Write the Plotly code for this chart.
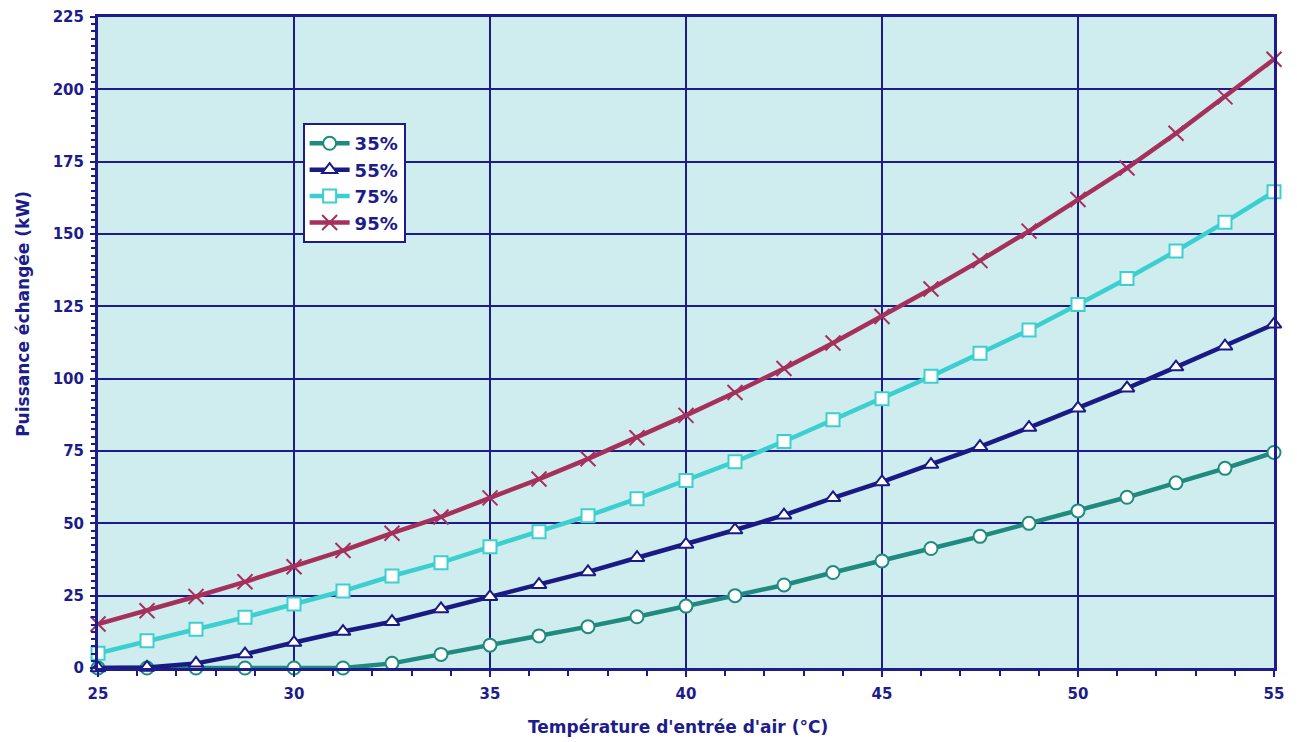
import plotly.graph_objects as go

temps = [25, 26.25, 27.5, 28.75, 30, 31.25, 32.5, 33.75, 35, 36.25, 37.5, 38.75, 40,
         41.25, 42.5, 43.75, 45, 46.25, 47.5, 48.75, 50, 51.25, 52.5, 53.75, 55]

p35 = [0, 0, 0, 0, 0, 0, 1.6, 4.7, 7.9, 11.1, 14.3, 17.7, 21.4, 25.0, 28.7,
       33.0, 37.0, 41.3, 45.5, 50.0, 54.3, 59.0, 64.0, 69.0, 74.5]
p55 = [0, 0.2, 1.6, 4.8, 8.8, 12.6, 16.0, 20.4, 24.6, 28.8, 33.2, 38.1, 42.7, 47.7, 52.8,
       58.8, 64.3, 70.3, 76.5, 83.1, 89.8, 96.7, 104.0, 111.2, 118.8]
p75 = [5.1, 9.4, 13.4, 17.5, 22.1, 26.6, 31.8, 36.4, 41.9, 47.1, 52.6, 58.5, 64.8, 71.3, 78.3,
       85.8, 93.1, 100.8, 108.8, 116.8, 125.6, 134.6, 144.1, 154.1, 164.6]
p95 = [15.2, 19.8, 24.7, 29.8, 35.0, 40.6, 46.6, 52.2, 58.8, 65.3, 72.3, 79.6, 87.3, 95.2, 103.5,
       112.3, 121.5, 131.0, 140.8, 151.0, 161.9, 172.8, 184.8, 197.4, 210.4]

series_names = ["35%", "55%", "75%", "95%"]
series_values = [p35, p55, p75, p95]
series_colors = ["#1f8a7e", "#1a1a84", "#3ccfcf", "#a5305c"]
series_symbols = ["circle", "triangle-up", "square", "x-thin"]

x_title = "Température d'entrée d'air (°C)"
y_title = "Puissance échangée (kW)"

NAVY = "#1c1c8a"
FONT = "DejaVu Sans"

fig = go.Figure()
for name, vals, col, sym in zip(series_names, series_values, series_colors, series_symbols):
    if sym == "x-thin":
        marker = dict(symbol=sym, size=15, line=dict(color=col, width=2))
    else:
        marker = dict(symbol=sym, size=13, color="white", line=dict(color=col, width=2))
    fig.add_trace(go.Scatter(
        x=temps, y=vals, name=name, mode="lines+markers",
        line=dict(color=col, width=4.5),
        marker=marker,
        cliponaxis=False,
    ))

# page body has an 8px margin; plot area targeted at x 98..1274, y 17..668
fig.update_layout(
    width=1289, height=734,
    margin=dict(l=90, r=23, t=9, b=74, autoexpand=False),
    paper_bgcolor="white",
    plot_bgcolor="#cfedef",
    font=dict(family=FONT, color=NAVY, size=14),
    showlegend=True,
    legend=dict(
        x=0.174, y=0.837, xanchor="left", yanchor="top",
        bgcolor="white", bordercolor=NAVY, borderwidth=2,
        font=dict(family=FONT, size=18, color=NAVY, weight="bold"),
        itemwidth=40, tracegroupgap=0,
    ),
    annotations=[
        dict(text=x_title, xref="paper", yref="paper", x=0.4932, y=0, yshift=-59,
             xanchor="center", yanchor="middle", showarrow=False,
             font=dict(family=FONT, size=17, color=NAVY, weight="bold")),
        dict(text=y_title, xref="paper", yref="paper", x=0, xshift=-75, y=0.544,
             xanchor="center", yanchor="middle", textangle=-90, showarrow=False,
             font=dict(family=FONT, size=17, color=NAVY, weight="bold")),
    ],
)

fig.update_xaxes(
    range=[25, 55], tick0=25, dtick=5,
    showgrid=True, gridcolor=NAVY, gridwidth=1.5,
    showline=True, linecolor=NAVY, linewidth=3, mirror=True,
    ticks="outside", ticklen=6, tickwidth=2, tickcolor=NAVY,
    minor=dict(dtick=1, ticks="outside", ticklen=5, tickwidth=2, tickcolor=NAVY, showgrid=False),
    tickfont=dict(family=FONT, size=15, color=NAVY, weight="bold"),
    ticklabelstandoff=4,
    zeroline=False, automargin=False,
)
fig.update_yaxes(
    range=[0, 225], tick0=0, dtick=25,
    showgrid=True, gridcolor=NAVY, gridwidth=1.5,
    showline=True, linecolor=NAVY, linewidth=3, mirror=True,
    ticks="outside", ticklen=5, tickwidth=2, tickcolor=NAVY,
    minor=dict(dtick=2.5, ticks="outside", ticklen=4, tickwidth=2, tickcolor=NAVY, showgrid=False),
    tickfont=dict(family=FONT, size=15, color=NAVY, weight="bold"),
    ticklabelstandoff=3,
    zeroline=False, automargin=False,
)

fig.write_html("out.html")
